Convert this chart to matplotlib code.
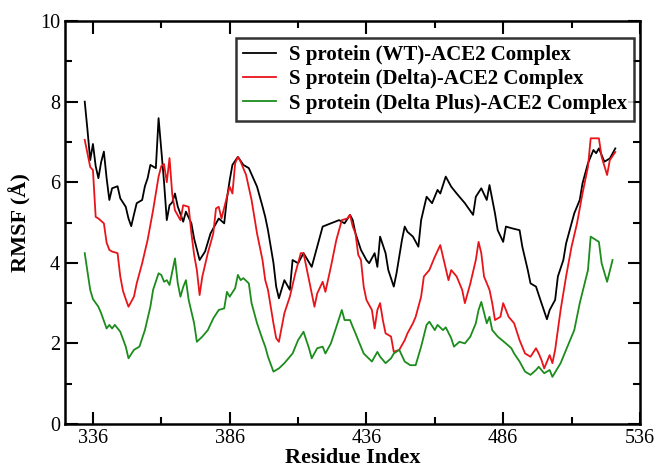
import matplotlib.pyplot as plt
from matplotlib.ticker import MultipleLocator

plt.rcParams['font.family'] = ['Liberation Serif', 'DejaVu Serif']

# residue index / RMSF values
wt_res = [333, 334, 335, 336, 337, 338, 339, 340, 341, 342, 343, 345, 346, 348, 349, 350,
          351, 352, 354, 355, 356, 357, 359, 360, 361, 362, 363, 364, 365, 366, 367, 369,
          370, 372, 373, 375, 377, 379, 382, 384, 385, 386, 387, 389, 391, 393, 396, 398,
          399, 400, 402, 403, 404, 406, 408, 409, 411, 413, 416, 418, 420, 423, 426, 428,
          430, 431, 432, 434, 436, 437, 439, 440, 441, 443, 444, 446, 447, 449, 450, 451,
          453, 455, 456, 458, 460, 462, 463, 465, 467, 469, 470, 472, 475, 476, 478, 480,
          481, 483, 484, 486, 487, 489, 492, 493, 495, 496, 498, 500, 502, 503, 505, 506,
          508, 509, 511, 512, 514, 515, 517, 519, 520, 521, 523, 525, 527]
wt_rmsf = [8.00, 7.30, 6.55, 6.95, 6.40, 6.10, 6.50, 6.76, 6.10, 5.56, 5.85, 5.90, 5.60, 5.39, 5.10, 4.91,
           5.20, 5.48, 5.56, 5.90, 6.10, 6.43, 6.35, 7.59, 6.80, 6.00, 5.06, 5.43, 5.50, 5.72, 5.40, 5.02,
           5.27, 4.98, 4.60, 4.07, 4.28, 4.73, 5.10, 4.98, 5.60, 6.05, 6.43, 6.63, 6.43, 6.35, 5.89, 5.40,
           5.14, 4.81, 4.00, 3.41, 3.12, 3.57, 3.33, 4.07, 3.99, 4.24, 3.90, 4.40, 4.90, 4.98, 5.06, 4.98,
           5.19, 5.06, 4.73, 4.32, 4.07, 3.99, 4.24, 3.90, 4.65, 4.24, 3.82, 3.41, 3.74, 4.57, 4.90, 4.77,
           4.65, 4.40, 5.06, 5.64, 5.48, 5.81, 5.72, 6.14, 5.89, 5.72, 5.64, 5.48, 5.19, 5.64, 5.85, 5.56,
           5.93, 5.23, 4.81, 4.52, 4.90, 4.86, 4.81, 4.40, 3.82, 3.49, 3.41, 3.00, 2.60, 2.83, 3.08, 3.66,
           4.07, 4.48, 4.98, 5.23, 5.56, 5.97, 6.47, 6.80, 6.72, 6.84, 6.51, 6.59, 6.84]

delta_res = [333, 335, 336, 337, 338, 340, 341, 342, 343, 345, 346, 347, 348, 349, 351, 352,
             354, 356, 358, 360, 361, 362, 363, 364, 365, 366, 368, 369, 371, 372, 373, 374,
             375, 376, 378, 380, 381, 382, 383, 385, 386, 387, 388, 389, 390, 392, 394, 396,
             398, 399, 400, 402, 403, 404, 406, 408, 410, 412, 413, 415, 417, 418, 420, 421,
             423, 425, 427, 429, 430, 431, 432, 433, 434, 435, 436, 438, 439, 440, 441, 442,
             443, 445, 446, 448, 450, 451, 453, 454, 456, 457, 459, 461, 463, 464, 466, 467,
             469, 471, 472, 474, 476, 477, 478, 479, 481, 482, 483, 485, 486, 488, 490, 492,
             494, 496, 498, 499, 500, 501, 503, 504, 505, 507, 509, 511, 513, 515, 517, 518,
             521, 522, 524, 525, 527]
delta_rmsf = [7.05, 6.38, 6.30, 5.14, 5.10, 4.98, 4.50, 4.32, 4.28, 4.24, 3.66, 3.30, 3.10, 2.91, 3.16, 3.49,
              3.99, 4.57, 5.31, 6.14, 6.40, 6.45, 6.00, 6.60, 5.70, 5.30, 5.06, 5.43, 5.39, 4.73, 4.20, 3.82,
              3.20, 3.66, 4.24, 4.73, 5.35, 5.39, 5.10, 5.64, 5.89, 5.72, 6.47, 6.63, 6.51, 6.18, 5.56, 4.73,
              4.07, 3.57, 3.33, 2.50, 2.13, 2.04, 2.75, 3.16, 3.74, 4.24, 4.24, 3.57, 2.91, 3.24, 3.53, 3.28,
              3.90, 4.57, 5.06, 5.10, 5.19, 4.90, 4.73, 4.20, 4.07, 3.41, 3.08, 2.83, 2.37, 2.83, 3.00, 2.58,
              2.25, 2.17, 1.79, 1.84, 2.08, 2.25, 2.50, 2.66, 3.16, 3.66, 3.82, 4.15, 4.44, 4.15, 3.57, 3.82,
              3.66, 3.33, 3.00, 3.49, 4.07, 4.52, 4.24, 3.66, 3.33, 3.00, 2.58, 2.66, 3.00, 2.66, 2.50, 2.08,
              1.75, 1.67, 1.88, 1.75, 1.59, 1.38, 1.71, 1.51, 1.84, 2.83, 3.66, 4.40, 4.98, 5.72, 6.38, 7.09,
              7.09, 6.63, 6.18, 6.55, 6.75]

dplus_res = [333, 335, 336, 338, 339, 341, 342, 343, 344, 346, 348, 349, 351, 353, 355, 357,
             358, 360, 361, 362, 363, 364, 366, 367, 368, 369, 370, 371, 373, 374, 376, 378,
             380, 382, 384, 385, 386, 388, 389, 390, 391, 393, 394, 396, 398, 399, 400, 402,
             404, 406, 409, 411, 413, 415, 416, 418, 420, 421, 423, 425, 427, 428, 430, 431,
             432, 433, 435, 438, 440, 441, 443, 445, 446, 448, 450, 452, 454, 456, 458, 459,
             461, 462, 464, 465, 467, 468, 470, 472, 474, 476, 477, 478, 480, 481, 482, 484,
             487, 489, 490, 492, 494, 496, 498, 499, 501, 503, 504, 507, 509, 512, 514, 517,
             518, 521, 522, 524, 526]
dplus_rmsf = [4.24, 3.33, 3.10, 2.91, 2.75, 2.37, 2.46, 2.37, 2.46, 2.29, 1.92, 1.63, 1.84, 1.92, 2.33, 2.91,
              3.33, 3.74, 3.70, 3.53, 3.57, 3.45, 4.11, 3.50, 3.16, 3.40, 3.57, 3.08, 2.50, 2.04, 2.17, 2.33,
              2.62, 2.83, 2.87, 3.28, 3.16, 3.37, 3.70, 3.57, 3.62, 3.49, 3.00, 2.50, 2.10, 1.92, 1.67, 1.30,
              1.38, 1.51, 1.75, 2.08, 2.29, 1.88, 1.63, 1.88, 1.92, 1.75, 2.00, 2.41, 2.83, 2.58, 2.58, 2.41,
              2.25, 2.08, 1.75, 1.55, 1.79, 1.67, 1.51, 1.63, 1.75, 1.84, 1.55, 1.46, 1.46, 1.92, 2.46, 2.54,
              2.33, 2.46, 2.33, 2.40, 2.13, 1.92, 2.04, 2.00, 2.17, 2.50, 2.83, 3.03, 2.50, 2.66, 2.33, 2.17,
              2.00, 1.88, 1.75, 1.55, 1.30, 1.22, 1.34, 1.42, 1.26, 1.34, 1.17, 1.51, 1.84, 2.33, 3.00, 3.82,
              4.65, 4.52, 3.99, 3.53, 4.07]

labels = ['S protein (WT)-ACE2 Complex',
          'S protein (Delta)-ACE2 Complex',
          'S protein (Delta Plus)-ACE2 Complex']
colors = ['black', '#e8141a', '#1c8c1c']

fig = plt.figure(figsize=(6.57, 4.68), dpi=100)
ax = fig.add_axes([0.099, 0.094, 0.875, 0.861])

for res, val, lab, col in zip([wt_res, delta_res, dplus_res],
                              [wt_rmsf, delta_rmsf, dplus_rmsf], labels, colors):
    ax.plot(res, val, color=col, lw=1.3, label=lab)

ax.set_xlim(325.8, 536)
ax.set_ylim(0, 10)
ax.set_xticks([336, 386, 436, 486, 536])
ax.set_xticks([361, 411, 461, 511], minor=True)
ax.set_yticks([0, 2, 4, 6, 8, 10])
ax.yaxis.set_minor_locator(MultipleLocator(1))

ax.tick_params(which='both', direction='in', top=True, right=True, width=1.5, labelsize=14.5)
ax.tick_params(which='major', length=9)
ax.tick_params(which='minor', length=5)
for s in ax.spines.values():
    s.set_linewidth(1.8)

ax.set_xlabel('Residue Index', fontsize=16, fontweight='bold', labelpad=0)
ax.set_ylabel('RMSF (Å)', fontsize=16, fontweight='bold', labelpad=6)

leg = ax.legend(loc='upper right', bbox_to_anchor=(0.99, 0.958),
                prop={'weight': 'bold', 'size': 15},
                frameon=True, fancybox=False, handlelength=1.6, handletextpad=0.6,
                borderaxespad=0, labelspacing=0.2, borderpad=0.35)
leg.get_frame().set_edgecolor('black')
leg.get_frame().set_linewidth(1.8)

fig.savefig('out.png', dpi=100)
